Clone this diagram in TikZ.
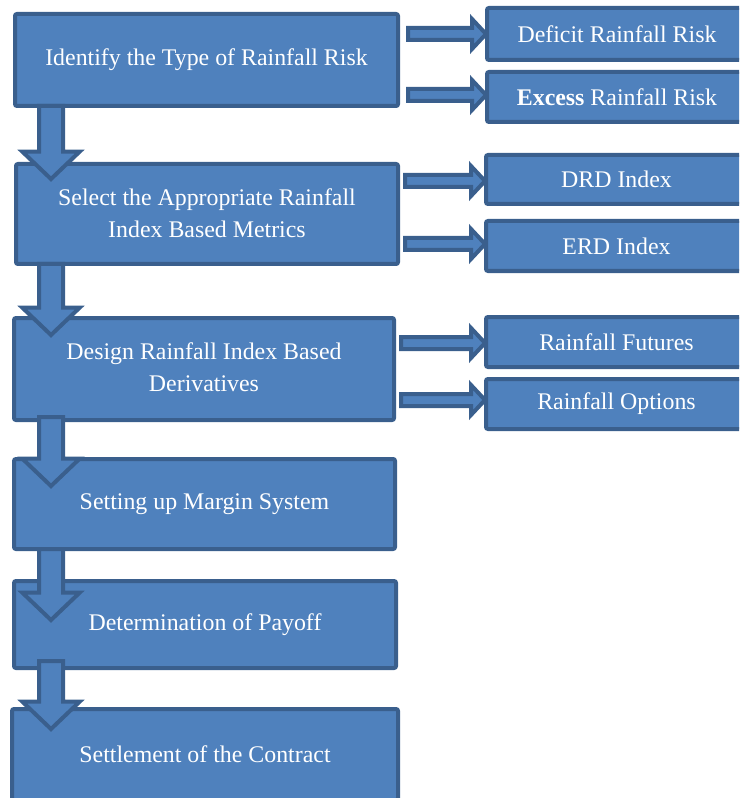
\documentclass[tikz,border=0pt]{standalone}
\usepackage{fontspec}
\setmainfont{Liberation Serif}
\usetikzlibrary{fit,calc}
\definecolor{boxfill}{HTML}{4F81BD}
\definecolor{boxline}{HTML}{3A5F8D}
\tikzset{
  box/.style={draw=boxline, fill=boxfill, line width=3pt, rounded corners=1.5pt,
    inner sep=0pt, outer sep=0pt},
  txt/.style={text=white, align=center, inner sep=0pt,
    font=\fontsize{17.9pt}{24pt}\selectfont},
  arr/.style={draw=boxline, fill=boxfill, line width=3pt, line join=miter}
}
\newcommand\darr[4]{%
  \draw[arr] let \p1=($(#1.south)+(0,#3)$), \p2=($(#2.north)+(0,#4)$), \p3=(51,0) in
    (\x3-9pt,\y1) -- (\x3+9pt,\y1) -- (\x3+9pt,\y2+20.5pt) -- (\x3+21.5pt,\y2+20.5pt)
    -- (\x3,\y2) -- (\x3-21.5pt,\y2+20.5pt) -- (\x3-9pt,\y2+20.5pt) -- cycle;}
\newcommand\rarr[4]{%
  \draw[arr] let \p1=($(#1.east)+(#4,0)$), \p2=($(#2.west)+(-1,#3)$) in
    (\x1,\y2+4.5pt) -- (\x2-10.5pt,\y2+4.5pt) -- (\x2-10.5pt,\y2+11.25pt) -- (\x2,\y2)
    -- (\x2-10.5pt,\y2-11.25pt) -- (\x2-10.5pt,\y2-4.5pt) -- (\x1,\y2-4.5pt) -- cycle;}
\begin{document}
\begin{tikzpicture}[x=0.75pt,y=-0.75pt]
\useasboundingbox (0,0) rectangle (739,798);
\clip (0,0) rectangle (739,798);
% left column
\node[box, fit={(15,14) (398,106)}] (b1) {};
\node[box, fit={(16,164) (398,264)}] (b2) {};
\node[box, fit={(14,318) (394,420)}] (b3) {};
\node[box, fit={(14,459) (395,549)}] (b4) {};
\node[box, fit={(14,581) (396,668)}] (b5) {};
\node[box, fit={(12,709) (398,800)}] (b6) {};
% right column
\node[box, fit={(487,8) (747,60)}] (r1) {};
\node[box, fit={(487,72) (747,122)}] (r2) {};
\node[box, fit={(486,155) (747,204)}] (r3) {};
\node[box, fit={(486,221) (747,271)}] (r4) {};
\node[box, fit={(486,317) (747,367)}] (r5) {};
\node[box, fit={(486,379) (747,429)}] (r6) {};
% down arrows
\darr{b1}{b2}{0}{15}
\darr{b2}{b3}{0}{17}
\darr{b3}{b4}{-3}{27}
\darr{b4}{b5}{0}{39}
\darr{b5}{b6}{-7}{20}
% right arrows
\rarr{b1}{r1}{0}{10}
\rarr{b1}{r2}{-2}{10}
\rarr{b2}{r3}{1.5}{7}
\rarr{b2}{r4}{-2}{7}
\rarr{b3}{r5}{1}{7}
\rarr{b3}{r6}{-4}{7}
% texts
\node[txt] (t1) at (b1.center) {Identify the Type of Rainfall Risk};
\node[txt] (t2) at ($(b2.center)+(0,-1)$) {Select the Appropriate Rainfall\\Index Based Metrics};
\node[txt] (t3) at ($(b3.center)+(0,-2)$) {Design Rainfall Index Based\\Derivatives};
\node[txt] (t4) at (b4.center) {Setting up Margin System};
\node[txt] (t5) at (b5.center) {Determination of Payoff};
\node[txt] (t6) at (b6.center) {Settlement of the Contract};
\node[txt] (s1) at (r1.center) {Deficit Rainfall Risk};
\node[txt] (s2) at (r2.center) {\textbf{Excess} Rainfall Risk};
\node[txt] (s3) at (r3.center) {DRD Index};
\node[txt] (s4) at (r4.center) {ERD Index};
\node[txt] (s5) at (r5.center) {Rainfall Futures};
\node[txt] (s6) at (r6.center) {Rainfall Options};
\end{tikzpicture}
\end{document}
